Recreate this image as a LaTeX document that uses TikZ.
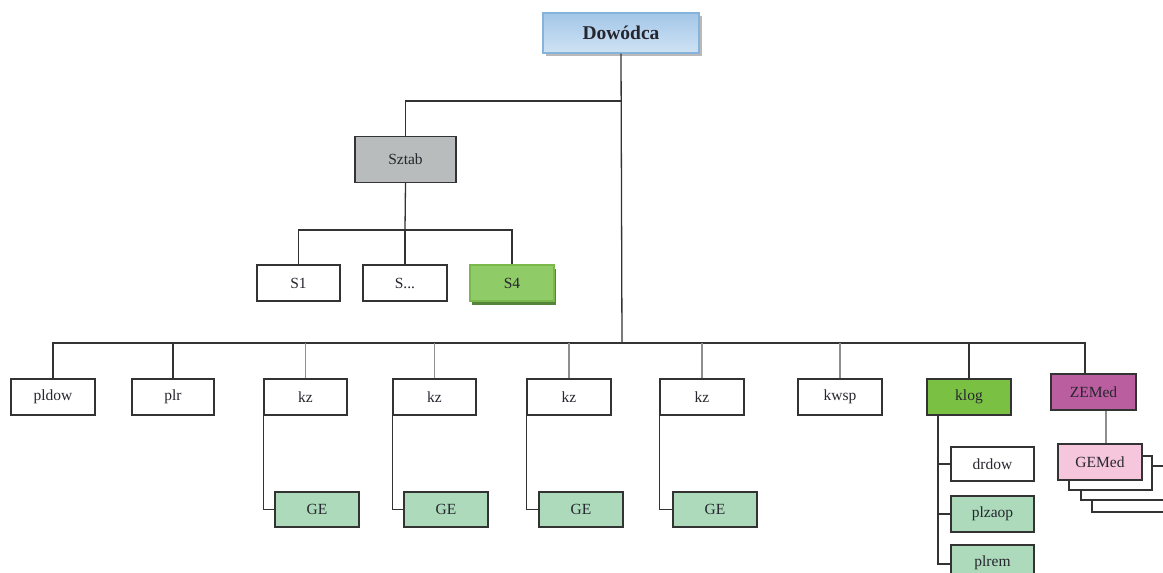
\documentclass[tikz,border=0pt]{standalone}
\usepackage{fontspec}
\setmainfont{Liberation Serif}
\usetikzlibrary{shadows}
\definecolor{txt}{HTML}{26262E}
\definecolor{edge}{HTML}{333333}
\definecolor{lgray}{HTML}{8E8E8E}
\definecolor{dowtop}{HTML}{A3C7E8}
\definecolor{dowbot}{HTML}{CFE2F4}
\definecolor{dowbrd}{HTML}{86B3DC}
\definecolor{sztabc}{HTML}{B8BCBC}
\definecolor{sfourc}{HTML}{8FCB66}
\definecolor{sfourb}{HTML}{7AB84C}
\definecolor{sfours}{HTML}{55853A}
\definecolor{klogc}{HTML}{7AC143}
\definecolor{zemedc}{HTML}{BB5E9F}
\definecolor{gemedc}{HTML}{F6C6DD}
\definecolor{gec}{HTML}{ACDABB}
\tikzset{
  x=1pt, y=-1pt,
  box/.style={draw=edge, line width=1.3pt, rectangle, inner sep=0pt,
    minimum width=84pt, minimum height=36pt, text=txt,
    font=\fontsize{15.5}{17}\selectfont, fill=white},
  gebox/.style={box, fill=gec, minimum height=35pt},
  conn/.style={draw=edge, line width=1.3pt},
  gconn/.style={draw=lgray, line width=1.8pt},
  stackbox/.style={box, minimum width=83pt, minimum height=34pt},
}
\begin{document}
\begin{tikzpicture}
\useasboundingbox (0,0) rectangle (1163,573);
\coordinate (j1) at (622,101);
\coordinate (j2) at (622,343);
\coordinate (zj) at (1085,343);
\coordinate (sj) at (405,230);
\coordinate (kl) at (938,564);
\coordinate (gx) at (1106,0);

% nodes
\node[box, minimum width=156pt, minimum height=40pt, draw=dowbrd, line width=1.3pt,
  top color=dowtop, bottom color=dowbot,
  drop shadow={shadow xshift=3pt, shadow yshift=-3pt, fill=gray!55, opacity=1},
  font=\fontsize{19.5}{21}\selectfont\bfseries] (dow) at (621,33) {Dowódca};
\node[box, fill=sztabc, minimum width=101pt, minimum height=46pt] (sztab) at (405.5,159.5) {Sztab};
\node[box, minimum width=83pt] (s1) at (298.5,283) {S1};
\node[box] (sdots) at (405,283) {S...};
\node[box, draw=sfourb, fill=sfourc,
  drop shadow={shadow xshift=2pt, shadow yshift=-4pt, fill=sfours, opacity=1}] (s4) at (512,283) {S4};

\node[box] (pldow) at (53,397) {pldow};
\node[box, minimum width=82pt] (plr) at (173,397) {plr};
\node[box, minimum width=83pt] (kz1) at (305.5,397) {kz};
\node[box, minimum width=83pt] (kz2) at (434.5,397) {kz};
\node[box] (kz3) at (569,397) {kz};
\node[box] (kz4) at (702,397) {kz};
\node[box] (kwsp) at (840,397) {kwsp};
\node[box, fill=klogc] (klog) at (969,397) {klog};
\node[box, fill=zemedc, minimum width=85pt] (zemed) at (1093.5,392) {ZEMed};

\node[gebox] (ge1) at (317,509.5) {GE};
\node[gebox] (ge2) at (446,509.5) {GE};
\node[gebox] (ge3) at (581,509.5) {GE};
\node[gebox] (ge4) at (715,509.5) {GE};

\node[box, minimum width=83pt, minimum height=34pt] (drdow) at (992.5,464) {drdow};
\node[box, fill=gec, minimum width=83pt] (plzaop) at (992.5,514) {plzaop};
\node[box, fill=gec, minimum width=83pt] (plrem) at (992.5,563) {plrem};

\node[stackbox] (st4) at (1133.5,495) {};
\node[stackbox] (st3) at (1122.5,483) {};
\node[stackbox] (st2) at (1110.5,473) {};
\node[box, fill=gemedc] (gemed) at (1100,462) {GEMed};

% connectors
\draw[conn] (dow.south) -- (j2);
\draw[conn] (j1) -| (sztab.north);
\draw[conn] (sztab.south) -- (sj);
\draw[conn] (s1.north) |- (sj) -| (s4.north);
\draw[conn] (sdots.north) -- (sdots.north |- sj);

\draw[conn] (pldow.north) |- (zj) -- (zj |- zemed.north);
\draw[conn] (plr.north) -- (plr.north |- j2);
\draw[gconn] (kz1.north) -- (kz1.north |- j2);
\draw[gconn] (kz2.north) -- (kz2.north |- j2);
\draw[gconn] (kz3.north) -- (kz3.north |- j2);
\draw[gconn] (kz4.north) -- (kz4.north |- j2);
\draw[gconn] (kwsp.north) -- (kwsp.north |- j2);
\draw[conn] (klog.north) -- (klog.north |- j2);

\draw[conn] (kz1.south west) |- (ge1.west);
\draw[conn] (kz2.south west) |- (ge2.west);
\draw[conn] (kz3.south west) |- (ge3.west);
\draw[conn] (kz4.south west) |- (ge4.west);

\draw[conn] (kl |- klog.south) -- (kl) -- (kl -| plrem.west);
\draw[conn] (kl |- drdow.west) -- (drdow.west);
\draw[conn] (kl |- plzaop.west) -- (plzaop.west);

\draw[gconn] (gx |- zemed.south) -- (gx |- gemed.north);
\end{tikzpicture}
\end{document}
